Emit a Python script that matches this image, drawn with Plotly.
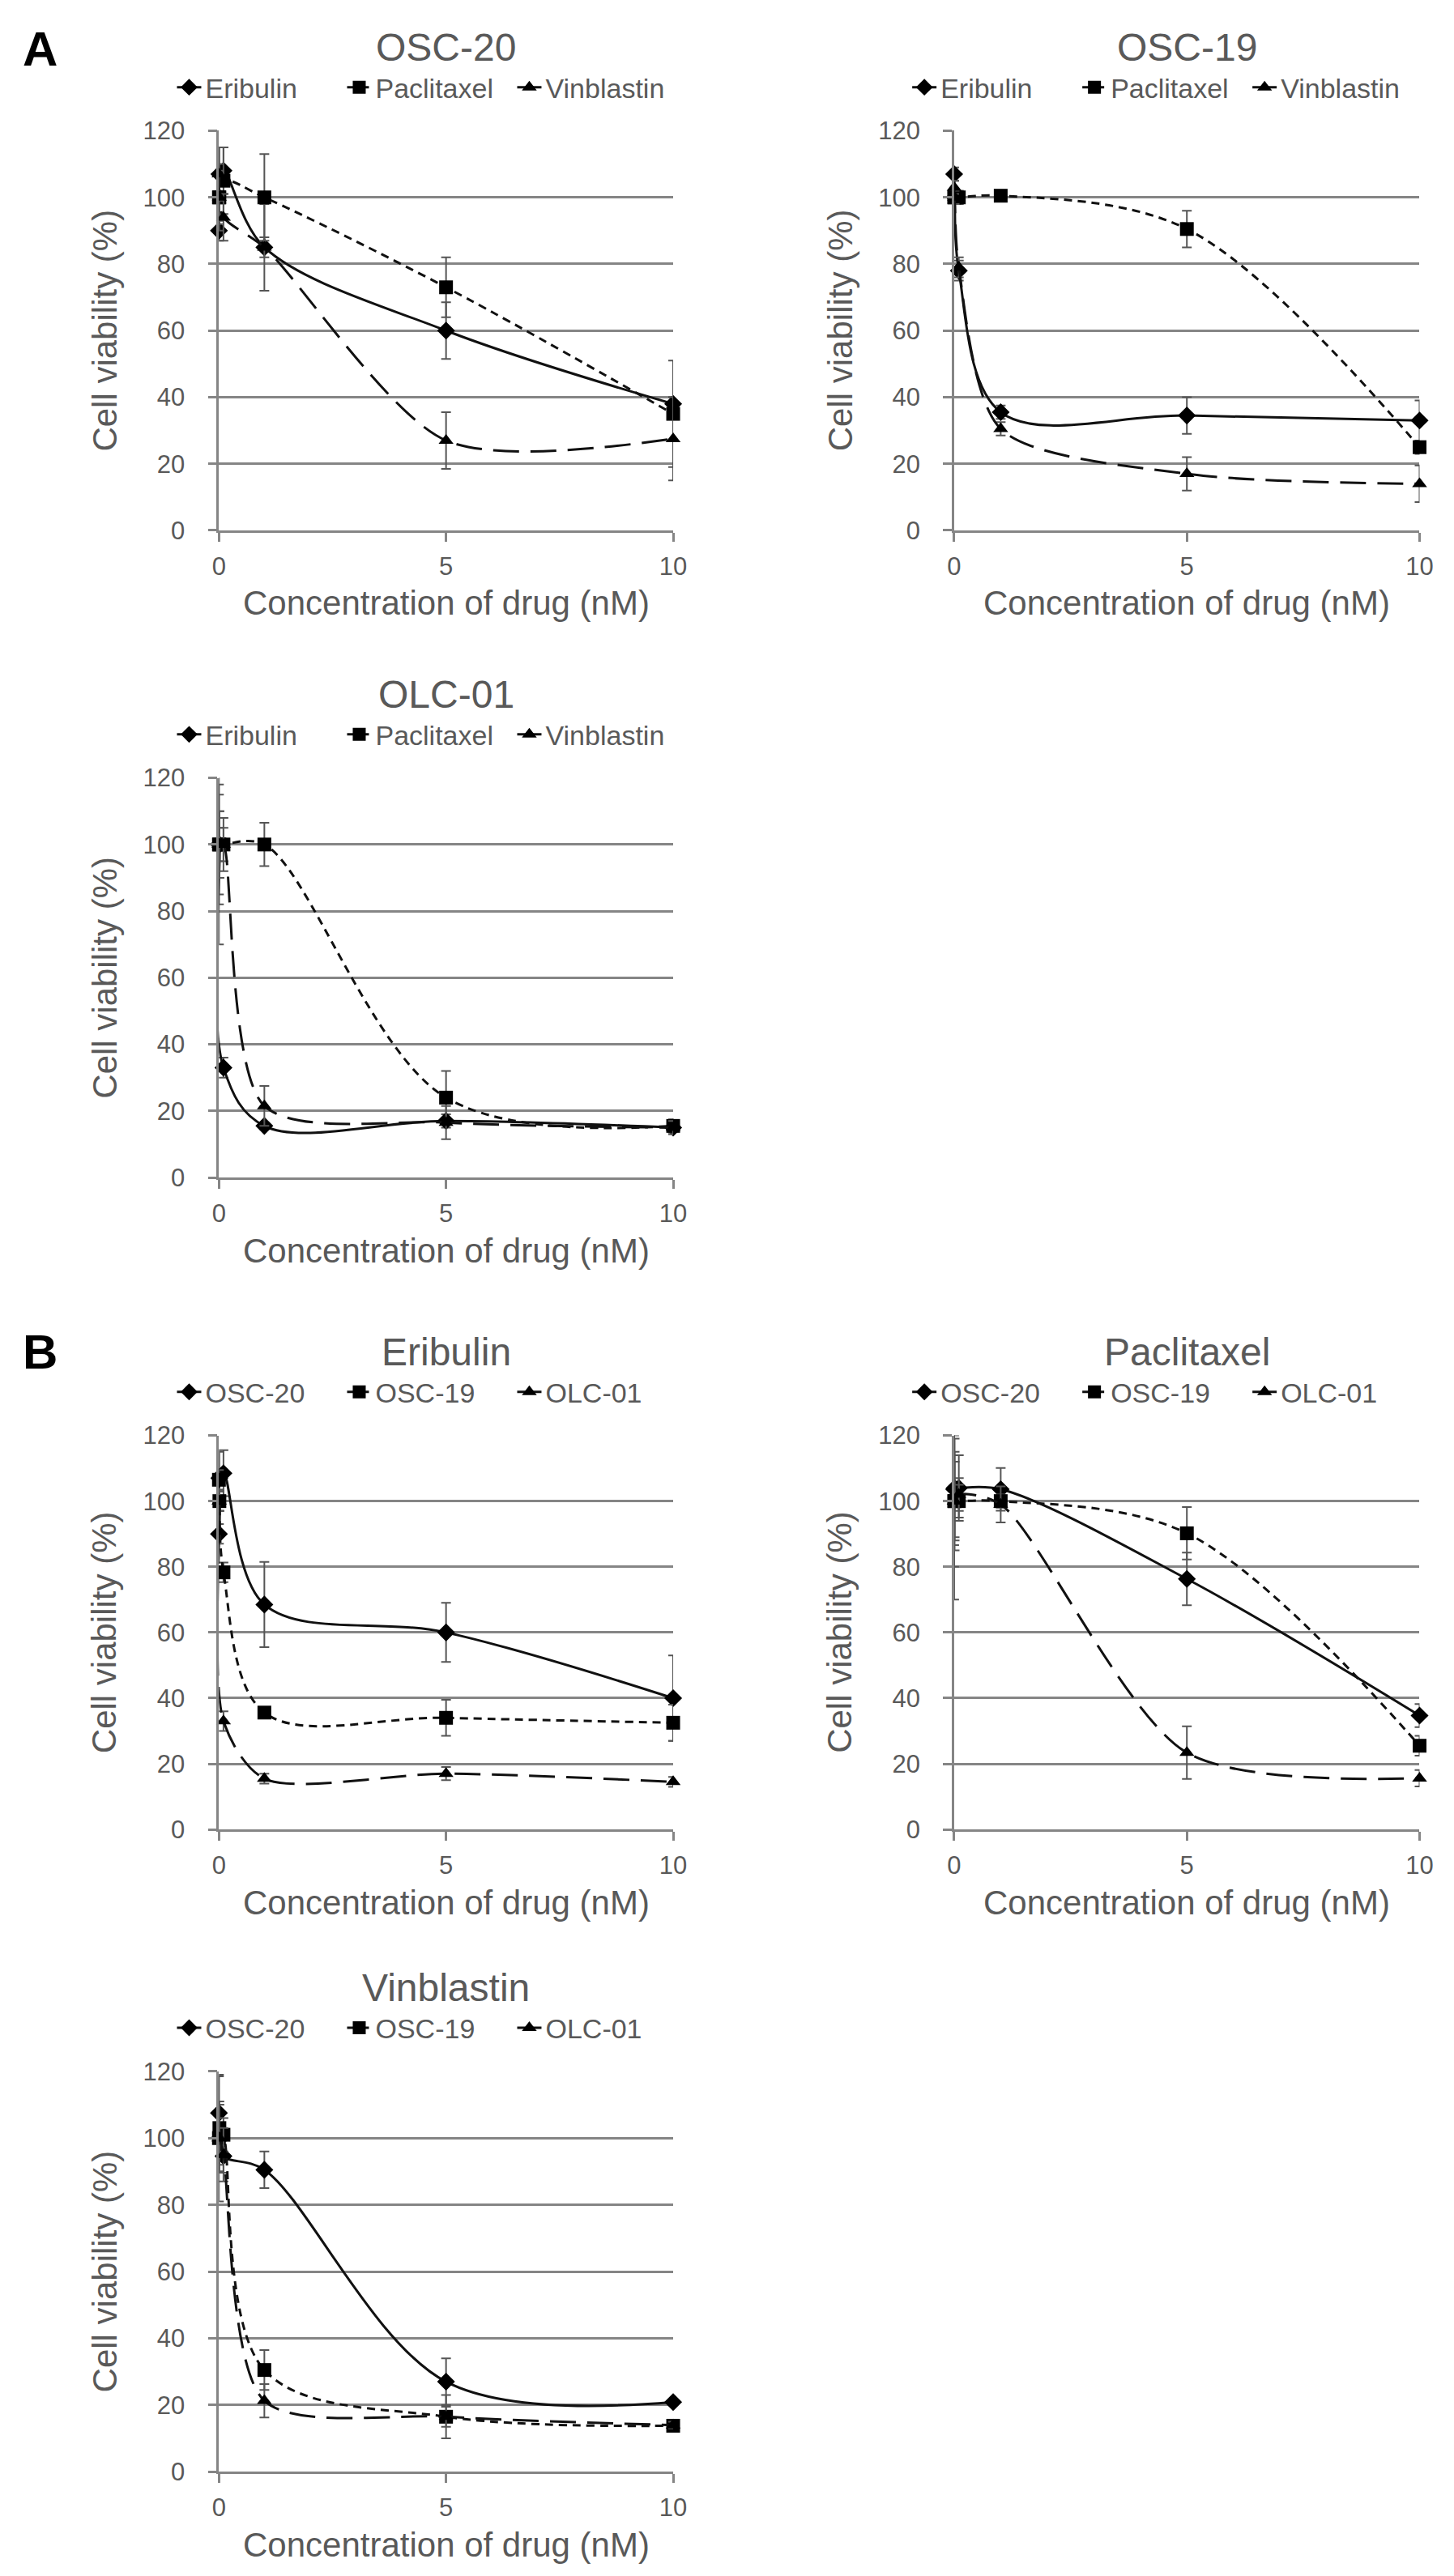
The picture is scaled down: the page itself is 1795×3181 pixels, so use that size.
import plotly.graph_objects as go

W, H = 1795, 3181

# ---------------- data ----------------
conc = [0, 0.01, 0.1, 1, 5, 10]
x_ticks = [0, 5, 10]
y_ticks = [0, 20, 40, 60, 80, 100, 120]

drug_names = ["Eribulin", "Paclitaxel", "Vinblastin"]
cell_names = ["OSC-20", "OSC-19", "OLC-01"]

# Panel A: per cell line, series = drugs
osc20_eribulin = [90, 107, 108, 85, 60, 38]
osc20_eribulin_err = [3, 8, 7, 13, 8.5, 2]
osc20_paclitaxel = [100, 100, 105, 100, 73, 35]
osc20_paclitaxel_err = [8, 10, 10, 13, 9, 16]
osc20_vinblastin = [107, 100, 94, 85, 27, 27.5]
osc20_vinblastin_err = [8, 7, 7, 3, 8.5, 12.5]

osc19_eribulin = [107, 100, 78, 35.5, 34.5, 33]
osc19_eribulin_err = [2, 2, 3, 2, 5.5, 6]
osc19_paclitaxel = [100, 100, 100, 100.5, 90.5, 25]
osc19_paclitaxel_err = [2, 2, 2, 1, 5.5, 2]
osc19_vinblastin = [103, 100, 79, 30.5, 17, 14]
osc19_vinblastin_err = [2, 2, 3, 2, 5, 5.5]

olc01_eribulin = [100, 100, 33, 15.5, 17, 15]
olc01_eribulin_err = [15, 5, 3, 1, 2, 1.5]
olc01_paclitaxel = [100, 100, 100, 100, 24, 15.5]
olc01_paclitaxel_err = [18, 10, 5, 6.5, 8, 2]
olc01_vinblastin = [100, 100, 100, 21.5, 16.5, 15]
olc01_vinblastin_err = [30, 10, 8, 6, 5, 2]

# Panel B: per drug, series = cell lines
eribulin_osc20 = [90, 107, 108.5, 68.5, 60, 40]
eribulin_osc20_err = [3, 8, 7, 13, 9, 13]
eribulin_osc19 = [106.5, 100, 78.3, 35.6, 34, 32.5]
eribulin_osc19_err = [3, 3, 3, 1.5, 5.5, 5.5]
eribulin_olc01 = [100, 100, 33, 15.5, 17, 14.5]
eribulin_olc01_err = [3, 3, 3, 1.5, 2, 1.5]

paclitaxel_osc20 = [103.6, 104, 104, 103.6, 76.3, 34.7]
paclitaxel_osc20_err = [17, 15, 10, 6.5, 8, 3.5]
paclitaxel_osc19 = [100, 100, 100, 100, 90.2, 25.5]
paclitaxel_osc19_err = [20, 12, 5, 2, 8, 3]
paclitaxel_olc01 = [100, 100, 102, 99, 23.4, 15.6]
paclitaxel_olc01_err = [30, 15, 5, 5.5, 8, 2.5]

vinblastin_osc20 = [107.5, 100, 94.6, 90.5, 27, 20.9]
vinblastin_osc20_err = [11, 8, 5, 5.5, 7, 1]
vinblastin_osc19 = [100, 103, 101, 30.5, 16.5, 13.8]
vinblastin_osc19_err = [10, 8, 5, 6, 6.5, 1]
vinblastin_olc01 = [100, 100, 95, 21.3, 16.5, 14]
vinblastin_olc01_err = [19, 10, 8, 5, 3, 1]

panel_titles = ["OSC-20", "OSC-19", "OLC-01", "Eribulin", "Paclitaxel", "Vinblastin"]
panel_series = [
    (drug_names, [(osc20_eribulin, osc20_eribulin_err), (osc20_paclitaxel, osc20_paclitaxel_err), (osc20_vinblastin, osc20_vinblastin_err)]),
    (drug_names, [(osc19_eribulin, osc19_eribulin_err), (osc19_paclitaxel, osc19_paclitaxel_err), (osc19_vinblastin, osc19_vinblastin_err)]),
    (drug_names, [(olc01_eribulin, olc01_eribulin_err), (olc01_paclitaxel, olc01_paclitaxel_err), (olc01_vinblastin, olc01_vinblastin_err)]),
    (cell_names, [(eribulin_osc20, eribulin_osc20_err), (eribulin_osc19, eribulin_osc19_err), (eribulin_olc01, eribulin_olc01_err)]),
    (cell_names, [(paclitaxel_osc20, paclitaxel_osc20_err), (paclitaxel_osc19, paclitaxel_osc19_err), (paclitaxel_olc01, paclitaxel_olc01_err)]),
    (cell_names, [(vinblastin_osc20, vinblastin_osc20_err), (vinblastin_osc19, vinblastin_osc19_err), (vinblastin_olc01, vinblastin_olc01_err)]),
]

# ---------------- layout (pixels) ----------------
LEFT = (257, 826)
RIGHT = (1178, 1761)
ROWS = [(138, 637), (946, 1445), (1767, 2259), (2561, 3061)]
panel_pos = [(LEFT, ROWS[0]), (RIGHT, ROWS[0]), (LEFT, ROWS[1]),
             (LEFT, ROWS[2]), (RIGHT, ROWS[2]), (LEFT, ROWS[3])]

def px(x):
    return x / W

def py(y):
    return 1 - y / H

GRID = "#858585"
TXT = "#595959"
FONT = "Liberation Sans, Arial, sans-serif"

dashes = ["solid", "10px,7px", "32px,14px"]
symbols = ["diamond", "square", "triangle-up"]
msizes = [17, 17, 16]
smooth = [1.0, 1.0, 0.8]

fig = go.Figure()
layout = dict(
    width=W, height=H, margin=dict(l=0, r=0, t=0, b=0),
    paper_bgcolor="white", plot_bgcolor="white",
    font=dict(family=FONT, color=TXT), annotations=[],
)

for i, ((xs, ys), (names, series)) in enumerate(zip(panel_pos, panel_series)):
    n = "" if i == 0 else str(i + 1)
    leg = "legend" + n
    for s, (vals, err) in enumerate(series):
        fig.add_trace(go.Scatter(
            x=conc, y=vals, name=names[s], legend=leg,
            xaxis="x" + n, yaxis="y" + n, mode="lines+markers", cliponaxis=False,
            line=dict(color="#111111", width=3, dash=dashes[s], shape="spline", smoothing=smooth[s]),
            marker=dict(symbol=symbols[s], size=msizes[s], color="#000000"),
            error_y=dict(type="data", array=err, visible=True, color="#555555", thickness=2, width=6),
        ))
    layout["xaxis" + n] = dict(
        domain=[px(xs[0]), px(xs[1])], anchor="y" + n, range=[0, 10],
        tickvals=x_ticks, showgrid=False, zeroline=False,
        showline=True, linecolor=GRID, linewidth=2.5,
        ticks="outside", ticklen=11, tickwidth=2.5, tickcolor=GRID,
        tickfont=dict(size=31, color=TXT, family=FONT), ticklabelstandoff=4,
    )
    layout["yaxis" + n] = dict(
        domain=[py(ys[1]), py(ys[0])], anchor="x" + n, range=[0, 120],
        tickvals=y_ticks, showgrid=True, gridcolor=GRID, gridwidth=2.5, zeroline=False,
        showline=True, linecolor=GRID, linewidth=2.5,
        ticks="outside", ticklen=11, tickwidth=2.5, tickcolor=GRID,
        tickfont=dict(size=31, color=TXT, family=FONT), ticklabelstandoff=22,
    )
    cx = (xs[0] + xs[1]) / 2
    cy = (ys[0] + ys[1]) / 2
    leg_cx = xs[0] + 262
    layout[leg] = dict(
        orientation="h", x=px(leg_cx), y=py(ys[0] - 54), xanchor="center", yanchor="middle",
        font=dict(size=34, color=TXT, family=FONT), bgcolor="rgba(0,0,0,0)",
        itemwidth=30, tracegroupgap=0, entrywidth=165, entrywidthmode="pixels",
    )
    ann = layout["annotations"]
    ann.append(dict(text=panel_titles[i], x=px(cx), y=py(ys[0] - 104), xref="paper", yref="paper",
                    showarrow=False, xanchor="center", yanchor="middle",
                    font=dict(size=48, color=TXT, family=FONT)))
    ann.append(dict(text="Cell viability (%)", x=px(xs[0] - 143), y=py(cy), xref="paper", yref="paper",
                    showarrow=False, textangle=-90, xanchor="center", yanchor="middle",
                    font=dict(size=42, color=TXT, family=FONT)))
    ann.append(dict(text="Concentration of drug (nM)", x=px(cx), y=py(ys[1] + 91), xref="paper", yref="paper",
                    showarrow=False, xanchor="center", yanchor="middle",
                    font=dict(size=42, color=TXT, family=FONT)))

for label, yy in [("A", 36), ("B", 1663)]:
    layout["annotations"].append(dict(text="<b>" + label + "</b>", x=px(33), y=py(yy), xref="paper", yref="paper",
                                      showarrow=False, xanchor="center", yanchor="middle",
                                      font=dict(size=60, color="#000000", family=FONT)))

fig.update_layout(**layout)
fig.write_html("out.html")
